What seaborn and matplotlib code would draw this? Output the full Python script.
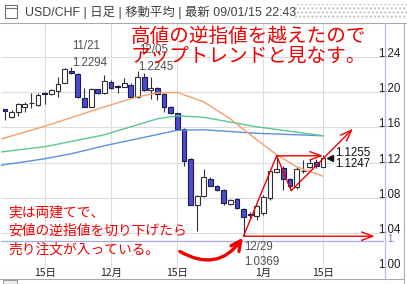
import matplotlib
matplotlib.use("Agg")
import matplotlib.pyplot as plt
import seaborn as sns
import numpy as np
from matplotlib.patches import Rectangle
from matplotlib.lines import Line2D

# ---------------- data ----------------
dates = ["11/07", "11/10", "11/11", "11/12", "11/13", "11/14", "11/17", "11/18", "11/19", "11/20",
         "11/21", "11/24", "11/25", "11/26", "11/27", "11/28", "12/01", "12/02", "12/03", "12/04",
         "12/05", "12/08", "12/09", "12/10", "12/11", "12/12", "12/15", "12/16", "12/17", "12/18",
         "12/19", "12/22", "12/23", "12/24", "12/25", "12/26", "12/29", "12/30", "12/31", "01/02",
         "01/05", "01/06", "01/07", "01/08", "01/09", "01/12", "01/13", "01/14", "01/15"]
opens = [1.1805, 1.1718, 1.1782, 1.1839, 1.1874, 1.1858, 1.1998, 1.1983, 1.2017, 1.2111,
         1.2248, 1.2210, 1.1934, 1.1832, 1.2036, 1.1998, 1.2123, 1.2074, 1.2066, 1.2085,
         1.1952, 1.2180, 1.2022, 1.2048, 1.1983, 1.1832, 1.1764, 1.1582, 1.1241, 1.0722,
         1.0824, 1.1014, 1.0938, 1.0892, 1.0733, 1.0786, 1.0673, 1.0619, 1.0589, 1.0627,
         1.0798, 1.1089, 1.1139, 1.1014, 1.0923, 1.1100, 1.1150, 1.1202, 1.1150]
highs = [1.1810, 1.1801, 1.1875, 1.1895, 1.1991, 1.1991, 1.2009, 1.2040, 1.2176, 1.2275,
         1.2294, 1.2222, 1.2048, 1.2048, 1.2042, 1.2199, 1.2142, 1.2085, 1.2161, 1.2108,
         1.2245, 1.2225, 1.2176, 1.2066, 1.1991, 1.1840, 1.1770, 1.1591, 1.1252, 1.0830,
         1.1127, 1.1036, 1.0949, 1.0900, 1.0786, 1.0798, 1.0684, 1.0634, 1.0722, 1.0835,
         1.1119, 1.1270, 1.1157, 1.1025, 1.1153, 1.1233, 1.1240, 1.1245, 1.1290]
lows = [1.1680, 1.1707, 1.1733, 1.1782, 1.1820, 1.1847, 1.1869, 1.1972, 1.1949, 1.2105,
        1.2210, 1.1940, 1.1830, 1.1830, 1.1985, 1.1983, 1.2036, 1.1998, 1.2059, 1.1938,
        1.1934, 1.2020, 1.1925, 1.1915, 1.1782, 1.1758, 1.1566, 1.1157, 1.0716, 1.0425,
        1.0812, 1.0930, 1.0873, 1.0722, 1.0722, 1.0673, 1.0369, 1.0551, 1.0551, 1.0608,
        1.0778, 1.1082, 1.0892, 1.0892, 1.0903, 1.1085, 1.1142, 1.1136, 1.1148]
closes = [1.1785, 1.1782, 1.1869, 1.1869, 1.1880, 1.1972, 1.1983, 1.2028, 1.2097, 1.2264,
          1.2222, 1.1945, 1.1835, 1.2036, 1.1991, 1.2134, 1.2048, 1.2059, 1.2111, 1.1945,
          1.2180, 1.2028, 1.2045, 1.1983, 1.1832, 1.1764, 1.1582, 1.1214, 1.0722, 1.0818,
          1.1036, 1.0938, 1.0884, 1.0741, 1.0778, 1.0684, 1.0582, 1.0605, 1.0702, 1.0809,
          1.1100, 1.1127, 1.1014, 1.0938, 1.1127, 1.1110, 1.1195, 1.1165, 1.1255]

ma_short_idx = [-1, 6, 15, 20, 23, 26, 30, 34, 38, 41, 44, 48]
ma_short = [1.1460, 1.1614, 1.1835, 1.1949, 1.1994, 1.2000, 1.1892, 1.1699, 1.1460, 1.1290, 1.1153, 1.1045]
ma_mid_idx = [-1, 6, 15, 20, 23, 26, 30, 38, 48]
ma_mid = [1.1318, 1.1381, 1.1517, 1.1631, 1.1699, 1.1733, 1.1716, 1.1608, 1.1506]
ma_long_idx = [-1, 6, 10, 15, 20, 26, 30, 38, 48]
ma_long = [1.1165, 1.1244, 1.1301, 1.1392, 1.1472, 1.1568, 1.1574, 1.1534, 1.1506]

y_ticks = [1.00, 1.04, 1.08, 1.12, 1.16, 1.20, 1.24]
x_tick_idx = [6, 16, 26, 39, 48]
x_tick_labels = ["15日", "12月", "15日", "1月", "15日"]
stop_level = 1.0305

# ---------------- figure ----------------
sns.set_theme(style="white")
plt.rcParams['font.family'] = ['Liberation Sans', 'Noto Sans CJK JP', 'DejaVu Sans']

W, H = 407, 284
fig = plt.figure(figsize=(W / 100, H / 100), dpi=100)
fig.patch.set_facecolor("white")

def fx(x):
    return x / W

def fy(y):
    return 1 - y / H

ax = fig.add_axes([fx(1), fy(268), (384 - 1) / W, (268 - 23) / H])
ax.set_facecolor("white")
ax.set_xlim(-0.6, 57.2)
ax.set_ylim(1.0006, 1.279)
for s in ax.spines.values():
    s.set_visible(False)

# grid
for v in y_ticks:
    ax.axhline(v, color="#dcdcdc", lw=0.8, zorder=0)
for i in x_tick_idx:
    ax.axvline(i, color="#dcdcdc", lw=0.8, zorder=0)
ax.axhline(stop_level, color="#a8a8e8", lw=0.9, zorder=0.5)

# candles
x = np.arange(len(dates))
o = np.array(opens); c = np.array(closes); h = np.array(highs); l = np.array(lows)
up = c >= o
ax.vlines(x, l, h, color="#303040", lw=0.8, zorder=2)
body_low = np.minimum(o, c)
body_h = np.maximum(np.abs(c - o), 0.0005)
ax.bar(x[up], body_h[up], bottom=body_low[up], width=0.72, color="white",
       edgecolor="#303030", linewidth=0.8, zorder=2.2)
ax.bar(x[~up], body_h[~up], bottom=body_low[~up], width=0.72, color="#4a4ad2",
       edgecolor="#1c1c50", linewidth=0.8, zorder=2.2)

# moving averages
sns.lineplot(x=ma_long_idx, y=ma_long, ax=ax, color="#5b8fe0", lw=1.0, sort=False, zorder=3)
sns.lineplot(x=ma_mid_idx, y=ma_mid, ax=ax, color="#5cc890", lw=1.0, sort=False, zorder=3)
sns.lineplot(x=ma_short_idx, y=ma_short, ax=ax, color="#f2a06c", lw=1.0, sort=False, zorder=3)

# ticks
ax.yaxis.tick_right()
ax.set_yticks(y_ticks)
ax.set_yticklabels([f"{v:.2f}" for v in y_ticks])
ax.tick_params(axis="y", length=0, pad=-4.3, labelsize=8.3, labelcolor="#202020")
for lb in ax.get_yticklabels():
    lb.set_va("baseline")
ax.set_xticks(x_tick_idx)
ax.set_xticklabels(x_tick_labels, family=["Noto Sans CJK JP"])
ax.tick_params(axis="x", length=0, pad=0, labelsize=7.5, labelcolor="#202020")
ax.set_xlabel(""); ax.set_ylabel("")

# red trend annotations
red = "#f00000"
low_pt = (36, 1.0362)
peak_pt = (41, 1.1278)
trough_pt = (43.2, 1.0881)
ax.plot([low_pt[0], peak_pt[0], trough_pt[0]], [low_pt[1], peak_pt[1], trough_pt[1]],
        color=red, lw=1.0, zorder=4)
aprops = dict(arrowstyle="->,head_length=0.8,head_width=0.3", color=red, lw=1.0,
              shrinkA=0, shrinkB=0, mutation_scale=10)
ax.annotate("", xy=(52.5, 1.1585), xytext=trough_pt, arrowprops=aprops, zorder=4)
ax.annotate("", xy=(48, peak_pt[1]), xytext=peak_pt, arrowprops=aprops, zorder=4)
ax.annotate("", xy=(55.8, low_pt[1]), xytext=low_pt, arrowprops=aprops, zorder=4)
ax.annotate("", xy=(35.9, 1.0345), xytext=(26.4, 1.0188),
            arrowprops=dict(arrowstyle="->,head_length=0.7,head_width=0.35", color=red, lw=2.4,
                            shrinkA=0, shrinkB=0, mutation_scale=10,
                            connectionstyle="arc3,rad=0.45"), zorder=4)
ax.plot([49.05], [1.1255], marker="<", ms=4, color="#101010", zorder=5, clip_on=False)

# labels on chart
gray = "#505050"
lab_font = dict(fontsize=8.3, color=gray, va="center", ha="left", family=["Liberation Sans"])
fig.text(fx(72), fy(46), "11/21", **lab_font)
fig.text(fx(72), fy(62.7), "1.2294", **lab_font)
fig.text(fx(139), fy(50), "12/05", **lab_font)
fig.text(fx(138), fy(66.7), "1.2245", **lab_font)
fig.text(fx(244), fy(246.7), "12/29", **lab_font)
fig.text(fx(244), fy(261.7), "1.0369", **lab_font)
fig.text(fx(335), fy(152.7), "1.1255", fontsize=8.3, color="#101010", va="center", ha="left")
fig.text(fx(335), fy(164), "1.1247", fontsize=8.3, color="#101010", va="center", ha="left")
fig.text(fx(387), fy(239), "1.", fontsize=7.0, color="#7070e0", va="center", ha="left")

jp = ["Noto Sans CJK JP", "DejaVu Sans"]
fig.text(fx(131), fy(36.5), "高値の逆指値を越えたので", fontsize=14.1, color=red,
         va="center", ha="left", family=jp)
fig.text(fx(131), fy(56.5), "アップトレンドと見なす。", fontsize=14.1, color=red,
         va="center", ha="left", family=jp)
fig.text(fx(8), fy(212.5), "実は両建てで、", fontsize=9.9, color=red, va="center", ha="left", family=jp)
fig.text(fx(8), fy(231), "安値の逆指値を切り下げたら", fontsize=9.9, color=red, va="center", ha="left", family=jp)
fig.text(fx(8), fy(249.5), "売り注文が入っている。", fontsize=9.9, color=red, va="center", ha="left", family=jp)

# header / frame decorations
fig.text(fx(25), fy(12.5), "USD/CHF | 日足 | 移動平均 | 最新 09/01/15 22:43", fontsize=8.9,
         color="#404040", va="center", ha="left", family=["Liberation Sans", "Noto Sans CJK JP"])
fig.add_artist(Rectangle((fx(5), fy(18)), 12 / W, 13 / H, transform=fig.transFigure,
                         facecolor="white", edgecolor="#707070", lw=0.8))
fig.add_artist(Line2D([fx(5), fx(17)], [fy(8), fy(8)], transform=fig.transFigure, color="#707070", lw=0.8))
fig.add_artist(Rectangle((fx(295), fy(19)), (407 - 295) / W, 15 / H, transform=fig.transFigure,
                         facecolor="white", edgecolor="#c4c4c4", hatch="....", lw=0))
fig.add_artist(Line2D([0, 1], [fy(23), fy(23)], transform=fig.transFigure, color="#a8a8a8", lw=0.8))
fig.add_artist(Line2D([fx(384.5), fx(384.5)], [fy(23), fy(279)], transform=fig.transFigure,
                      color="#b8b8ea", lw=0.9))
fig.add_artist(Line2D([fx(403.5), fx(403.5)], [fy(24), fy(284)], transform=fig.transFigure,
                      color="#b0b0b0", lw=0.8))
fig.add_artist(Line2D([0, fx(403.5)], [fy(279), fy(279)], transform=fig.transFigure, color="#a8a8a8", lw=0.8))
fig.add_artist(Rectangle((fx(3), fy(284)), 14 / W, 4 / H, transform=fig.transFigure,
                         facecolor="#f0f0f0", edgecolor="#a0a0a0", lw=0.8))

fig.savefig("out.png", dpi=100)
